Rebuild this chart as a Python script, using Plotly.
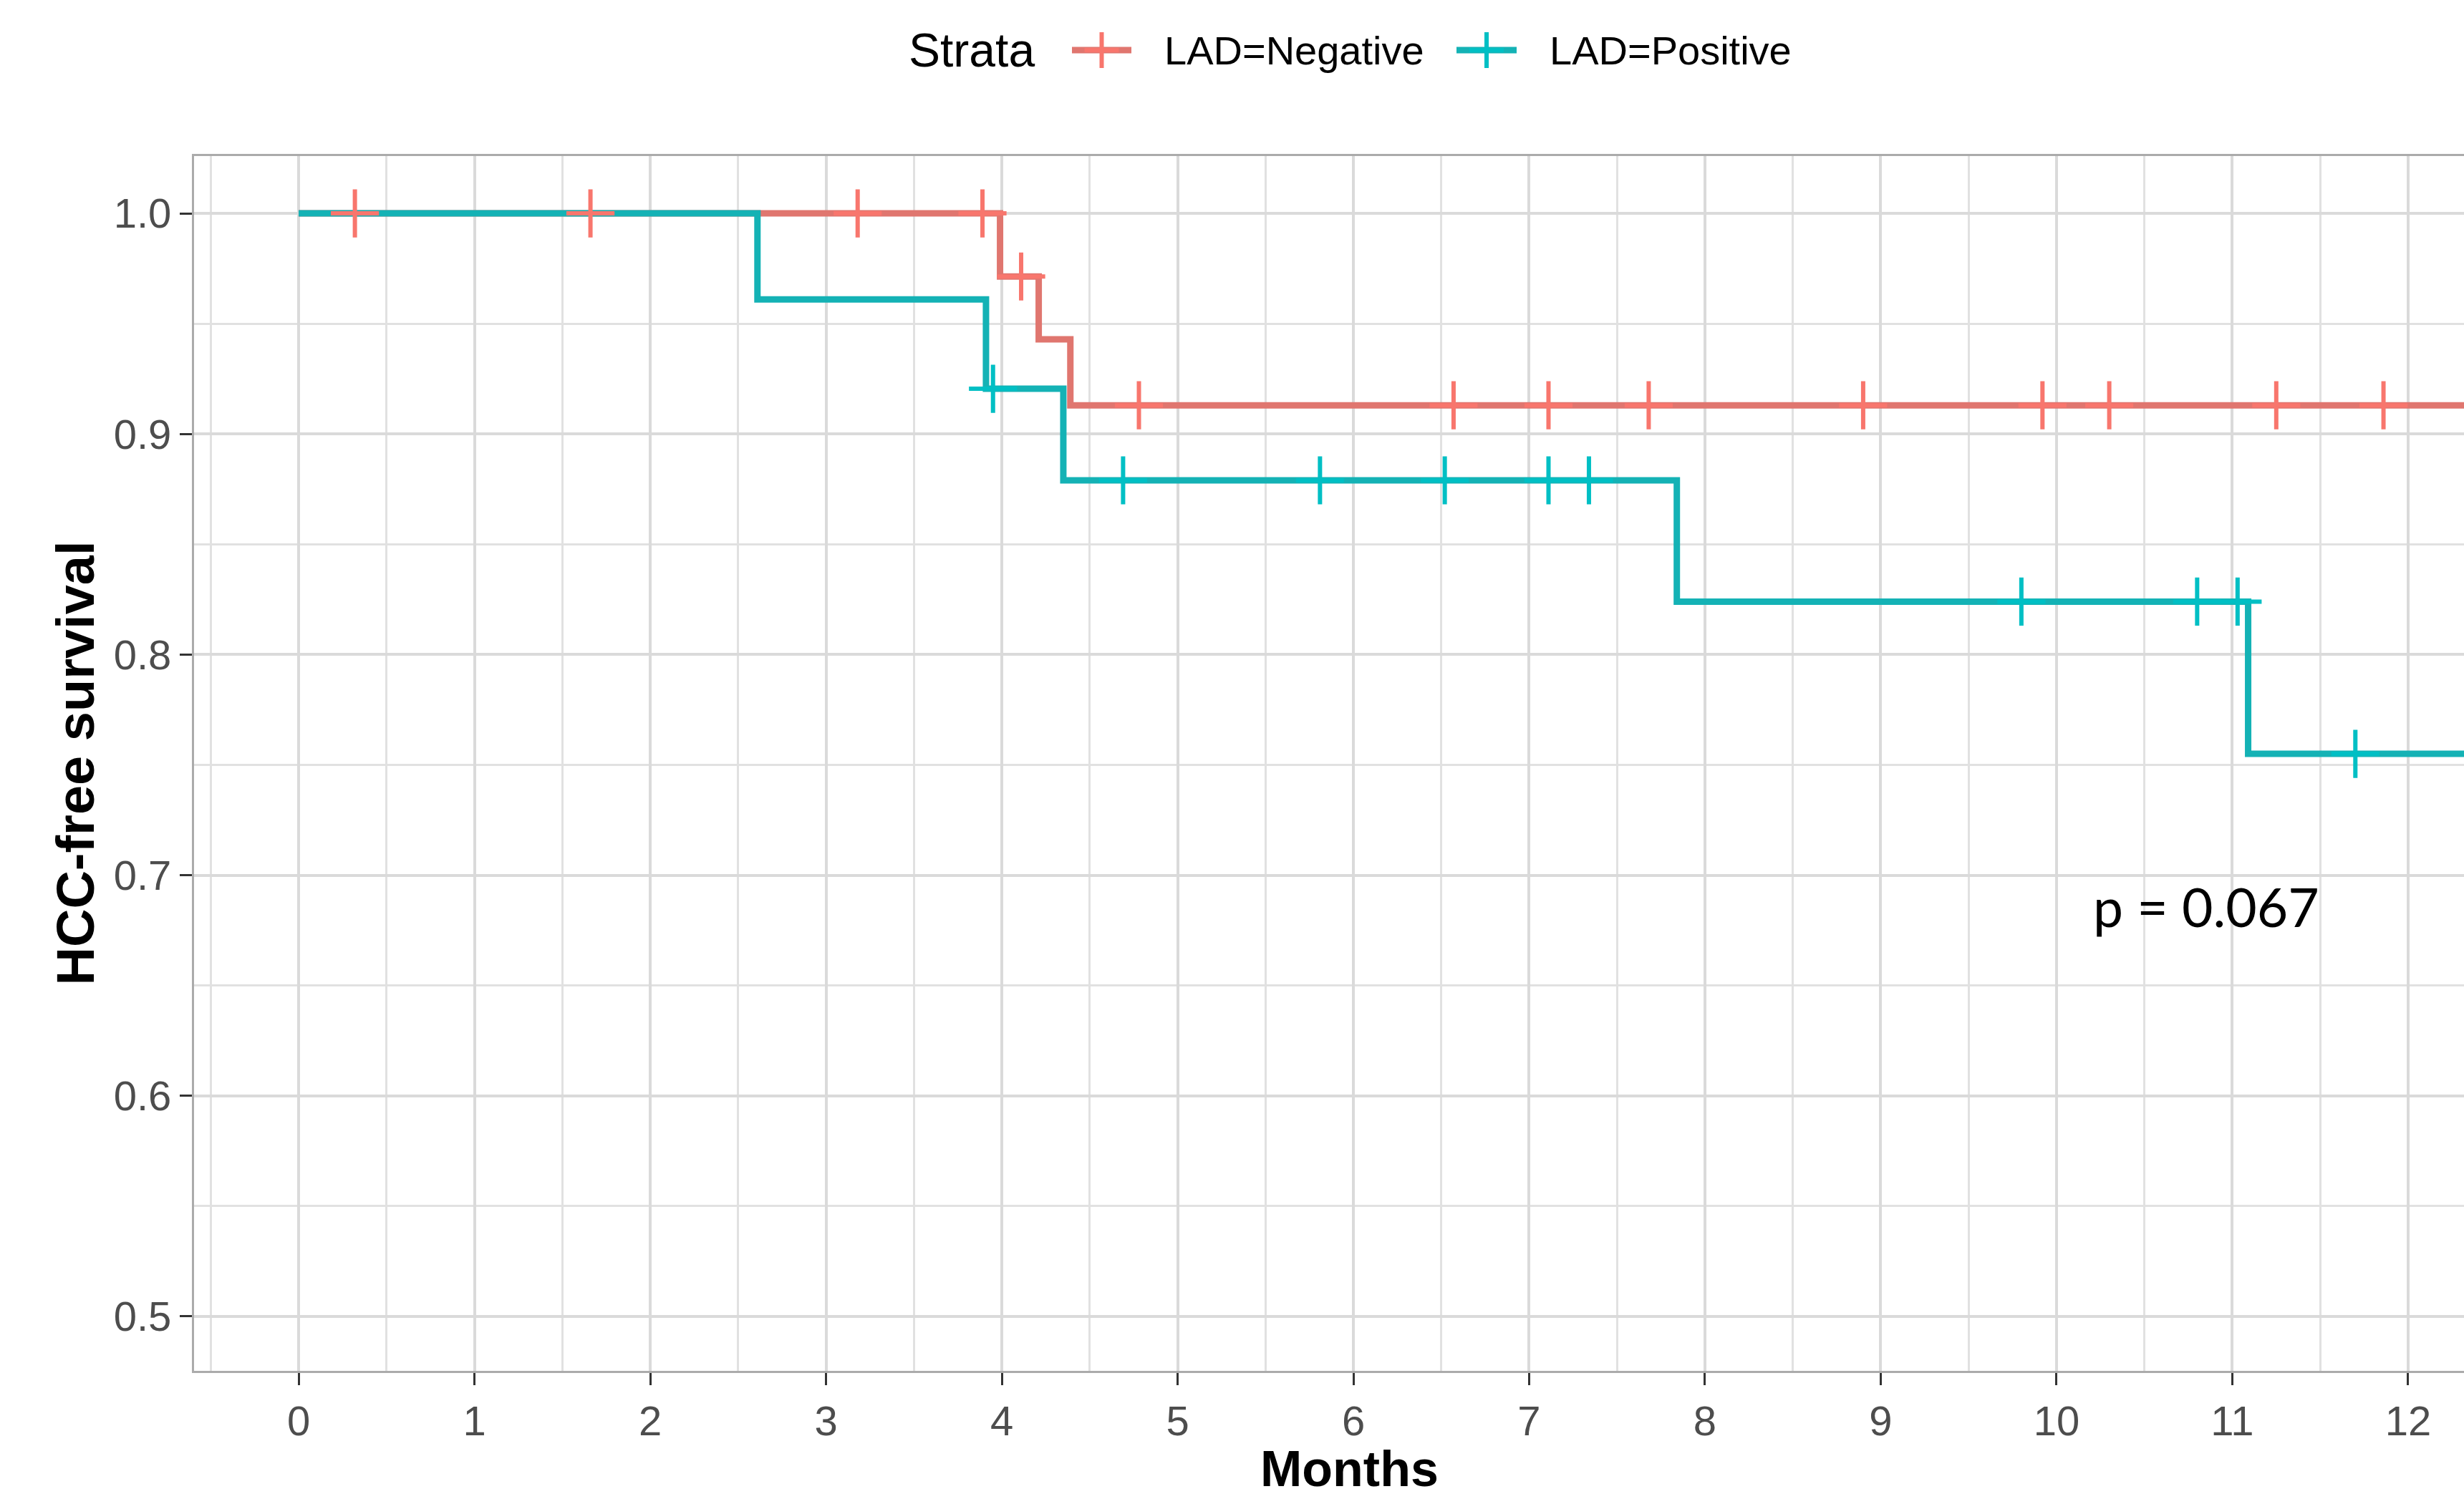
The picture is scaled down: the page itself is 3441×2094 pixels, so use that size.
import numpy as np
import plotly.graph_objects as go

# ---- data ----
neg_step_times = [0.0, 3.99, 4.21, 4.39, 13.0]
neg_step_surv = [1.0, 0.9714, 0.9429, 0.913, 0.913]
neg_censor_times = [0.32, 1.66, 3.18, 3.89, 4.11, 4.78, 6.57, 7.11, 7.68, 8.90, 9.92, 10.30, 11.25, 11.86]

pos_step_times = [0.0, 2.61, 3.91, 4.35, 7.84, 11.09, 13.0]
pos_step_surv = [1.0, 0.961, 0.9205, 0.879, 0.824, 0.755, 0.755]
pos_censor_times = [3.95, 4.69, 5.81, 6.52, 7.11, 7.34, 9.80, 10.80, 11.03, 11.70]

x_ticks = list(range(0, 13))
y_ticks = [0.5, 0.6, 0.7, 0.8, 0.9, 1.0]
y_ticklabels = ["0.5", "0.6", "0.7", "0.8", "0.9", "1.0"]

strata_names = ["LAD=Negative", "LAD=Positive"]
p_text = "p = 0.067"

RED_LINE = "#E0766F"
RED_MK = "#F8766D"
CY_LINE = "#14B2B5"
CY_MK = "#00BFC4"


def surv_at(times, step_t, step_s):
    idx = np.searchsorted(np.array(step_t), np.array(times), side="right") - 1
    return list(np.array(step_s)[idx])


fig = go.Figure()
fig.add_trace(go.Scatter(x=neg_step_times, y=neg_step_surv, mode="lines",
                         line=dict(color=RED_LINE, width=9, shape="hv"),
                         name=strata_names[0], showlegend=False))
fig.add_trace(go.Scatter(x=pos_step_times, y=pos_step_surv, mode="lines",
                         line=dict(color=CY_LINE, width=9, shape="hv"),
                         name=strata_names[1], showlegend=False))
fig.add_trace(go.Scatter(x=neg_censor_times,
                         y=surv_at(neg_censor_times, neg_step_times, neg_step_surv),
                         mode="markers",
                         marker=dict(symbol="cross-thin", size=48, color=RED_MK,
                                     line=dict(color=RED_MK, width=6)),
                         showlegend=False))
fig.add_trace(go.Scatter(x=pos_censor_times,
                         y=surv_at(pos_censor_times, pos_step_times, pos_step_surv),
                         mode="markers",
                         marker=dict(symbol="cross-thin", size=48, color=CY_MK,
                                     line=dict(color=CY_MK, width=6)),
                         showlegend=False))

W, H = 3441, 2094
L, T, B = 271, 218, 1915
pw, ph = W - L, B - T


def px(xp):
    return (xp - L) / pw


def py(yp):
    return (B - yp) / ph


FONT = "Liberation Sans, Arial, sans-serif"
ann = []
ann.append(dict(text="<b>Months</b>", xref="paper", yref="paper", x=px(1884), y=py(2052),
                xanchor="center", yanchor="middle", showarrow=False,
                font=dict(family=FONT, size=70, color="black")))
ann.append(dict(text="<b>HCC-free survival</b>", xref="paper", yref="paper", x=px(105), y=0.5,
                xanchor="center", yanchor="middle", showarrow=False, textangle=-90,
                font=dict(family=FONT, size=74, color="black")))
ann.append(dict(text=p_text, xref="x", yref="y", x=10.85, y=0.686,
                xanchor="center", yanchor="middle", showarrow=False,
                font=dict(family="Lato, Carlito, sans-serif", size=75, color="black")))
# custom legend
ann.append(dict(text="Strata", xref="paper", yref="paper", x=px(1357), y=py(70),
                xanchor="center", yanchor="middle", showarrow=False,
                font=dict(family=FONT, size=66, color="black")))
ann.append(dict(text=strata_names[0], xref="paper", yref="paper", x=px(1624), y=py(70),
                xanchor="left", yanchor="middle", showarrow=False,
                font=dict(family=FONT, size=56, color="black")))
ann.append(dict(text=strata_names[1], xref="paper", yref="paper", x=px(2162), y=py(70),
                xanchor="left", yanchor="middle", showarrow=False,
                font=dict(family=FONT, size=56, color="black")))

shapes = []
for (x0, x1, lc, mc) in [(1497, 1580, RED_LINE, RED_MK), (2034, 2118, CY_LINE, CY_MK)]:
    xc = (x0 + x1) / 2
    shapes.append(dict(type="line", xref="paper", yref="paper", x0=px(x0), x1=px(x1),
                       y0=py(70), y1=py(70), line=dict(color=lc, width=9)))
    shapes.append(dict(type="line", xref="paper", yref="paper", x0=px(xc - 24), x1=px(xc + 24),
                       y0=py(70), y1=py(70), line=dict(color=mc, width=6)))
    shapes.append(dict(type="line", xref="paper", yref="paper", x0=px(xc), x1=px(xc),
                       y0=py(70 - 25), y1=py(70 + 25), line=dict(color=mc, width=6)))

fig.update_layout(
    width=W, height=H,
    margin=dict(l=L, r=0, t=T, b=H - B, pad=0),
    paper_bgcolor="white", plot_bgcolor="white",
    showlegend=False,
    annotations=ann, shapes=shapes,
    font=dict(family=FONT),
)
fig.update_xaxes(range=[-0.595, 12.318], tickvals=x_ticks, ticks="outside", ticklen=17,
                 tickwidth=3, tickcolor="#333333",
                 tickfont=dict(family=FONT, size=58, color="#4D4D4D"),
                 showgrid=True, gridcolor="#DADADA", gridwidth=4,
                 minor=dict(dtick=0.5, showgrid=True, gridcolor="#E1E1E1", gridwidth=3),
                 showline=True, linecolor="#ABABAB", linewidth=3, mirror=True,
                 zeroline=False)
fig.update_yaxes(range=[0.4753, 1.026], tickvals=y_ticks, ticktext=y_ticklabels,
                 ticks="outside", ticklen=17, tickwidth=3, tickcolor="#333333",
                 tickfont=dict(family=FONT, size=58, color="#4D4D4D"),
                 showgrid=True, gridcolor="#DADADA", gridwidth=4,
                 minor=dict(dtick=0.05, showgrid=True, gridcolor="#E1E1E1", gridwidth=3),
                 showline=True, linecolor="#ABABAB", linewidth=3, mirror=False,
                 zeroline=False)

fig.write_html("out.html", config={"displayModeBar": False},
               post_script="document.body.style.margin='0';document.body.style.padding='0';"
                           "document.documentElement.style.overflow='hidden';")
